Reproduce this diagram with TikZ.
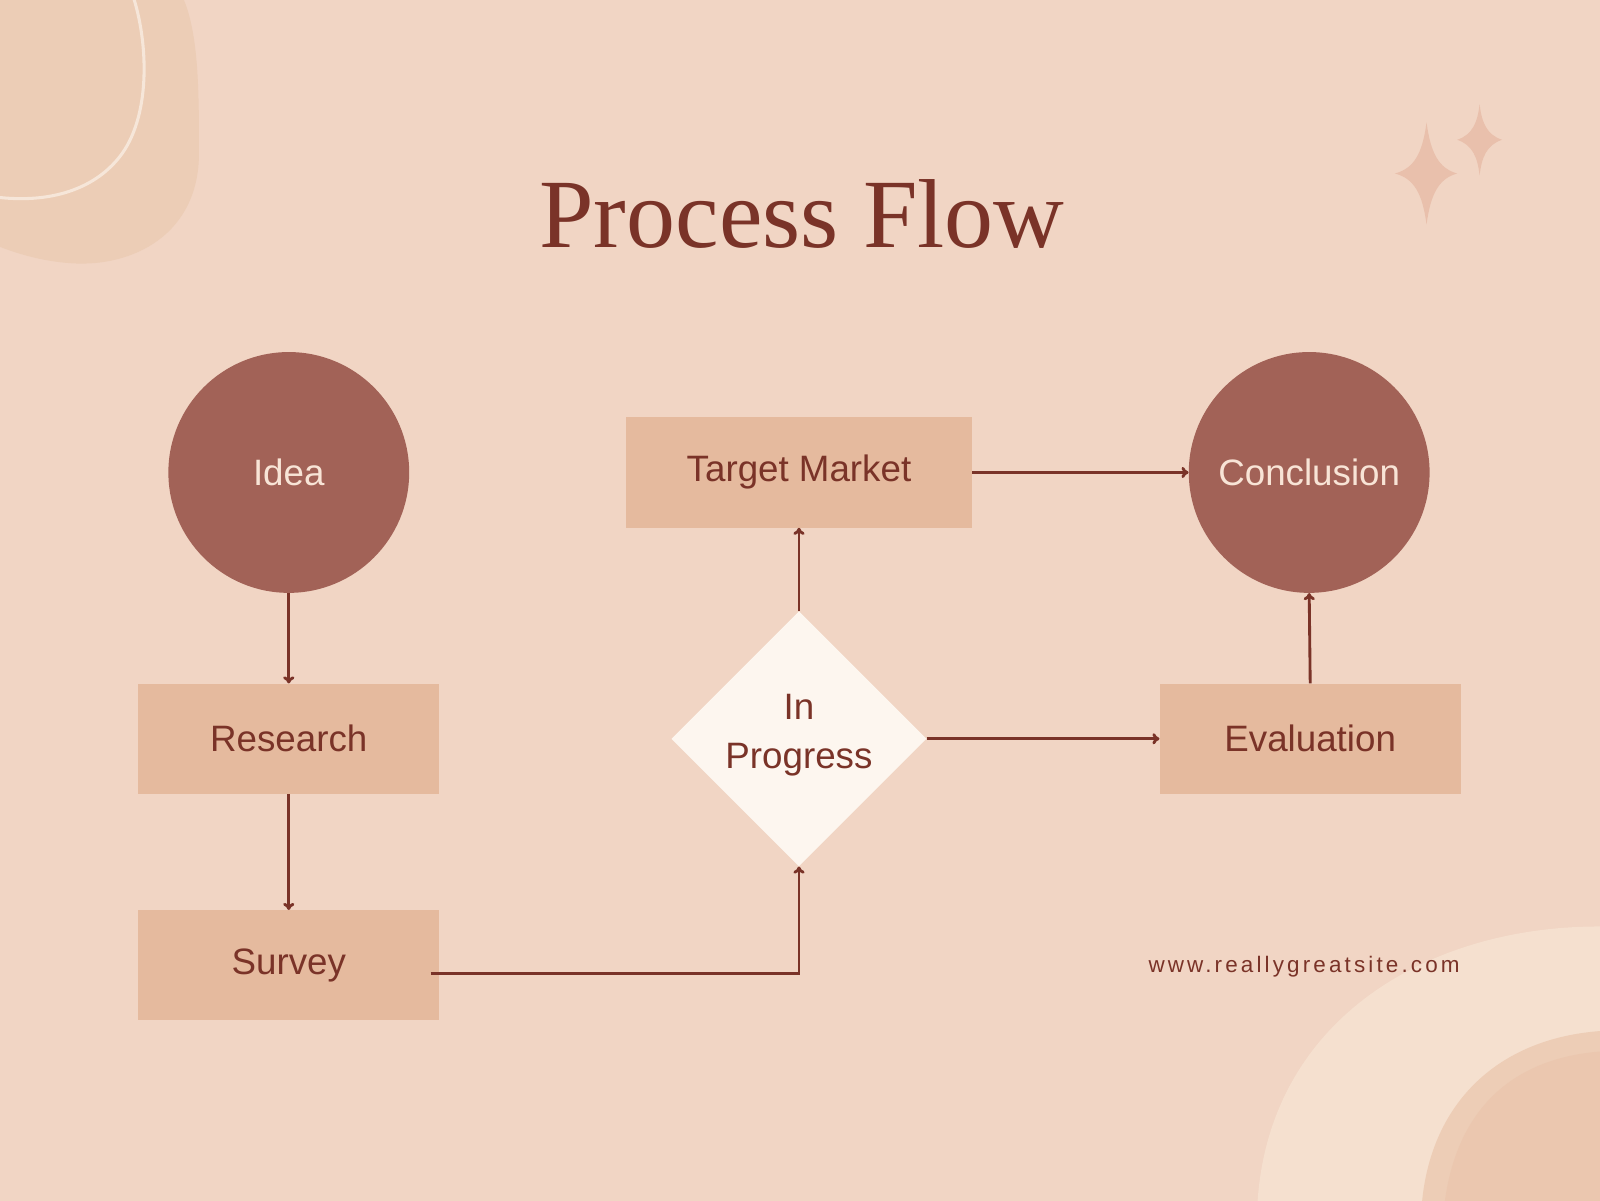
\documentclass[tikz,border=0pt]{standalone}
\usepackage{fontspec}
\setmainfont{Liberation Sans}
\newfontfamily\titlefont{Liberation Serif}
\usetikzlibrary{shapes.geometric,arrows.meta}
\definecolor{bg}{HTML}{F1D5C4}
\definecolor{circ}{HTML}{A26257}
\definecolor{boxc}{HTML}{E5BA9E}
\definecolor{dark}{HTML}{7A3328}
\definecolor{dia}{HTML}{FDF6EF}
\definecolor{ctext}{HTML}{F8E4D6}
\definecolor{blob}{HTML}{ECCDB6}
\definecolor{blobline}{HTML}{F6E6D9}
\definecolor{arc1}{HTML}{F5E0CF}
\definecolor{arc2}{HTML}{EDCDB6}
\definecolor{arc3}{HTML}{EBC7AF}
\definecolor{spark}{HTML}{E9C0AC}
\begin{document}
\begin{tikzpicture}[x=1pt,y=-1pt,
 circ/.style={circle,fill=circ,minimum size=236pt,inner sep=0pt,text=ctext,font=\fontsize{36}{40}\selectfont},
 box/.style={rectangle,fill=boxc,minimum width=295pt,minimum height=108pt,inner sep=0pt,text=dark,font=\fontsize{36}{40}\selectfont},
 arr/.style={draw=dark,line width=2.8pt,-{To[length=7pt,width=11pt,line width=2.8pt]}}]
\useasboundingbox (0,0) rectangle (1568,1176);
\fill[bg] (-5,-5) rectangle (1575,1185);
% top-left blob
\fill[blob] (-5,-5) -- (178,-5) .. controls (195,30) and (195,90) .. (195,150) .. controls (195,230) and (130,262) .. (70,258) .. controls (40,256) and (15,248) .. (-5,240) -- cycle;
\draw[blobline,line width=3pt] (130,-5) .. controls (145,40) and (148,110) .. (120,150) .. controls (95,185) and (50,200) .. (-5,193);
% bottom-right arcs
\fill[arc1] (1232,1185) .. controls (1240,1000) and (1400,905) .. (1575,908) -- (1575,1185) -- cycle;
\fill[arc2] (1393,1185) .. controls (1400,1080) and (1470,1015) .. (1575,1010) -- (1575,1185) -- cycle;
\fill[arc3] (1415,1185) .. controls (1425,1090) and (1480,1035) .. (1575,1030) -- (1575,1185) -- cycle;
% sparkles
\fill[spark] (1398,120) .. controls (1402,150) and (1410,165) .. (1428,170) .. controls (1410,175) and (1402,190) .. (1398,220) .. controls (1394,190) and (1386,175) .. (1367,170) .. controls (1386,165) and (1394,150) .. (1398,120) -- cycle;
\fill[spark] (1450,102) .. controls (1452,120) and (1457,132) .. (1472,137) .. controls (1457,142) and (1452,154) .. (1450,172) .. controls (1448,154) and (1443,142) .. (1428,137) .. controls (1443,132) and (1448,120) .. (1450,102) -- cycle;
% title
\node[text=dark,font=\titlefont\fontsize{96}{100}\selectfont] (title) at (786,210) {Process Flow};
% nodes
\node[circ] (idea) at (283,463) {Idea};
\node[box] (research) at (283,724) {Research};
\node[box] (survey) at (283,946) {Survey};
\node[box,minimum width=339pt] (target) at (783,463) {Target Market};
\node[diamond,fill=dia,minimum width=250pt,minimum height=250pt,inner sep=0pt] (prog) at (783,724) {};
\node[text=dark,align=center,font=\fontsize{36}{48}\selectfont] (progtext) at (783,720) {In\\Progress};
\node[circ] (concl) at (1283,463) {Conclusion};
\node[box] (eval) at (1284,724) {Evaluation};
\node[text=dark,anchor=east,font=\fontsize{22}{26}\selectfont\addfontfeature{LetterSpace=14}] (web) at (1434,947) {www.reallygreatsite.com};
\coordinate (s0) at (422,954);
\coordinate (s1) at (783,954);
% connectors
\draw[arr] (idea.south) -- (research.north);
\draw[arr] (research.south) -- (survey.north);
\draw[arr] (s0) -- (s1) -- (prog.south);
\draw[arr] (prog.north) -- (target.south);
\draw[arr] (target.east) -- (concl.west);
\draw[arr] (prog.east) -- (eval.west);
\draw[arr] (eval.north) -- (concl.south);
\end{tikzpicture}
\end{document}
